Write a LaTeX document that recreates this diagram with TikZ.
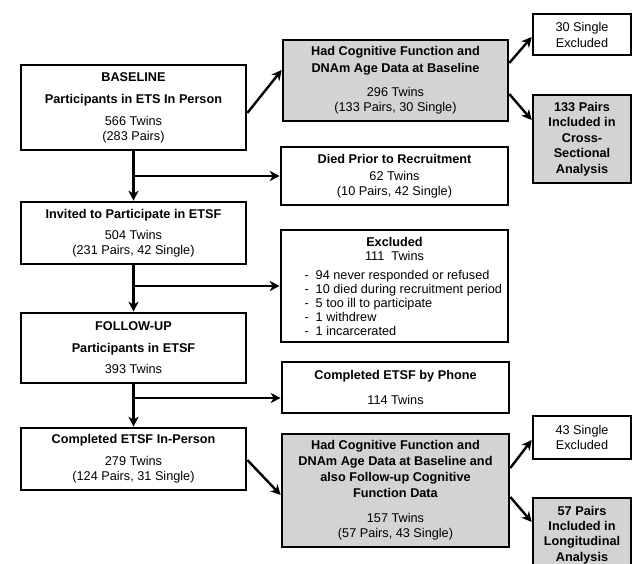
\documentclass[tikz,border=0pt]{standalone}
\usepackage{fontspec}
\setmainfont{Liberation Sans}
\usetikzlibrary{arrows.meta,calc}
\definecolor{boxgray}{HTML}{D3D3D3}
\begin{document}
\begin{tikzpicture}[x=1pt,y=-1pt,
  box/.style={draw=black, line width=2.6pt, fill=white, inner sep=0pt, align=center,
    font=\fontsize{12.7}{15}\selectfont},
  greybox/.style={box, fill=boxgray},
  arr/.style={line width=2.4pt, -{Stealth[length=10pt,width=10pt,inset=3pt]}}
]
\useasboundingbox (0,0) rectangle (633,564);

% left column
\node[box, minimum width=225pt, minimum height=85pt] (base) at (133.5,107.5)
  {\textbf{BASELINE}\\[7pt]\textbf{Participants in ETS In Person}\\[7pt]566 Twins\\(283 Pairs)};
\node[box, minimum width=225pt, minimum height=62pt] (inv) at (133.5,233)
  {\textbf{Invited to Participate in ETSF}\\[6pt]504 Twins\\(231 Pairs, 42 Single)};
\node[box, minimum width=225pt, minimum height=70pt] (fu) at (133.5,348)
  {\textbf{FOLLOW-UP}\\[7pt]\textbf{Participants in ETSF}\\[6pt]393 Twins};
\node[box, minimum width=225pt, minimum height=62pt] (cip) at (133.5,459)
  {\textbf{Completed ETSF In-Person}\\[7pt]279 Twins\\(124 Pairs, 31 Single)};

% middle column
\node[greybox, minimum width=225pt, minimum height=81pt] (g1) at (395.5,80.5)
  {\textbf{Had Cognitive Function and}\\[2pt]\textbf{DNAm Age Data at Baseline}\\[9pt]296 Twins\\(133 Pairs, 30 Single)};
\node[box, minimum width=227pt, minimum height=58pt] (died) at (394.5,176)
  {\textbf{Died Prior to Recruitment}\\[2pt]62 Twins\\(10 Pairs, 42 Single)};
\node[box, minimum width=227pt, minimum height=112pt] (excl) at (394.5,286)
  {\textbf{Excluded}\\[-1pt]111~~Twins\\[4pt]
   \makebox[180pt][l]{-\hspace{7pt}94 never responded or refused}\\[-1pt]
   \makebox[180pt][l]{-\hspace{7pt}10 died during recruitment period}\\[-1pt]
   \makebox[180pt][l]{-\hspace{7pt}5 too ill to participate}\\[-1pt]
   \makebox[180pt][l]{-\hspace{7pt}1 withdrew}\\[-1pt]
   \makebox[180pt][l]{-\hspace{7pt}1 incarcerated}};
\node[box, minimum width=227pt, minimum height=51pt] (phone) at (395.5,387.5)
  {\textbf{Completed ETSF by Phone}\\[10pt]114 Twins};
\node[greybox, minimum width=227pt, minimum height=113pt] (g2) at (395.5,490.5)
  {\textbf{Had Cognitive Function and}\\[1pt]\textbf{DNAm Age Data at Baseline and}\\[1pt]\textbf{also Follow-up Cognitive}\\[1pt]\textbf{Function Data}\\[10pt]157 Twins\\(57 Pairs, 43 Single)};

% right column
\node[box, minimum width=98pt, minimum height=41pt] (s30) at (582,34.5)
  {30 Single\\[1pt]Excluded};
\node[greybox, minimum width=98pt, minimum height=88pt] (p133) at (582,139)
  {\textbf{133 Pairs}\\[0.5pt]\textbf{Included in}\\[0.5pt]\textbf{Cross-}\\[0.5pt]\textbf{Sectional}\\[0.5pt]\textbf{Analysis}};
\node[box, minimum width=98pt, minimum height=43pt] (s43) at (582,437.5)
  {43 Single\\Excluded};
\node[greybox, minimum width=98pt, minimum height=74pt] (p57) at (582,535)
  {\textbf{57 Pairs}\\[0.3pt]\textbf{Included in}\\[0.3pt]\textbf{Longitudinal}\\[0.3pt]\textbf{Analysis}};

% vertical flow and side branches
\draw[arr] (base) -- (inv);
\coordinate (j1) at (base.south |- died.west);
\draw[arr] (j1) -- (died.west);
\draw[arr] (inv) -- (fu);
\coordinate (j2) at (inv.south |- excl.west);
\draw[arr] (j2) -- (excl.west);
\draw[arr] (fu) -- (cip);
\coordinate (pp) at ([yshift=-10.5pt]phone.west);
\coordinate (j3) at (fu.south |- pp);
\draw[arr] (j3) -- (pp);

% diagonal arrows
\draw[arr] ([yshift=-5.5pt]base.east) -- ([yshift=10.5pt]g1.west);
\draw[arr] ([yshift=17.5pt]g1.east) -- ([yshift=-2.5pt]s30.west);
\draw[arr] ([yshift=-13.5pt]g1.east) -- ([yshift=19pt]p133.west);
\draw[arr] ([yshift=-1pt]cip.east) -- ([yshift=-4.5pt]g2.west);
\draw[arr] ([yshift=22.5pt]g2.east) -- ([yshift=-2.5pt]s43.west);
\draw[arr] ([yshift=-6.5pt]g2.east) -- ([yshift=13pt]p57.west);
\end{tikzpicture}
\end{document}
